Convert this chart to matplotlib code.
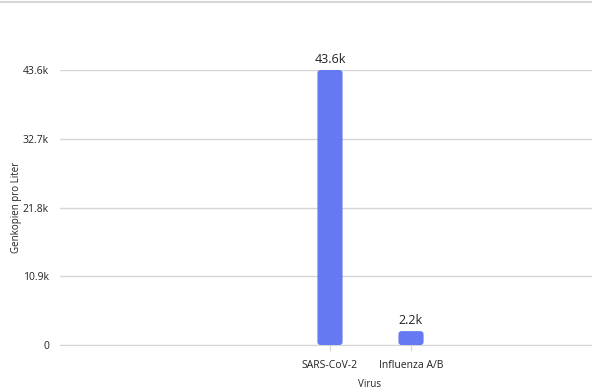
import matplotlib.pyplot as plt
from matplotlib.patches import FancyBboxPatch
from matplotlib.lines import Line2D

viren = ["SARS-CoV-2", "Influenza A/B"]
werte = [43600, 2200]
etiketten = ["43.6k", "2.2k"]
y_ticks = [0, 10900, 21800, 32700, 43600]
y_labels = ["0", "10.9k", "21.8k", "32.7k", "43.6k"]

plt.rcParams['font.family'] = ['Open Sans', 'DejaVu Sans']

W, H = 592, 391
fig = plt.figure(figsize=(W / 100, H / 100), dpi=100)
# Achse in Pixeln: x 60..592, y 70..345
ax = fig.add_axes([60 / W, (H - 345) / H, (W - 60) / W, 275 / H])

farbe = '#6479f2'
breite = 0.31
pos = list(range(len(viren)))
bars = ax.bar(pos, werte, width=breite, color=farbe, alpha=0)

# abgerundete Ecken (~3 px)
px_x = 1 / 81
px_y = 43600 / 275
for b in bars:
    ax.add_patch(FancyBboxPatch((b.get_x(), b.get_y()), b.get_width(), b.get_height(),
                                boxstyle="round,pad=0,rounding_size=%f" % (3 * px_x),
                                mutation_aspect=px_y / px_x,
                                facecolor=farbe, edgecolor='none', zorder=3))

for p, v, t in zip(pos, werte, etiketten):
    ax.annotate(t, (p, v), xytext=(0, 3), textcoords='offset points',
                ha='center', va='bottom', fontsize=9, color='#222222')

ax.set_xlim((60 - 330) / 81, (592 - 330) / 81)
ax.set_ylim(0, 43600)
ax.set_yticks(y_ticks)
ax.set_yticklabels(y_labels)
ax.set_xticks(pos)
ax.set_xticklabels(viren)

ax.grid(axis='y', color='#d6d6d6', linewidth=1)
ax.set_axisbelow(True)
for s in ['top', 'right', 'left']:
    ax.spines[s].set_visible(False)
ax.spines['bottom'].set_color('#d6d6d6')
ax.tick_params(axis='y', length=0, pad=8, labelsize=7.5, labelcolor='#222222')
ax.tick_params(axis='x', length=4, color='#d6d6d6', pad=7, labelsize=7.5,
               labelcolor='#222222')

ax.set_ylabel("Genkopien pro Liter", fontsize=7, color='#222222')
ax.yaxis.set_label_coords(-38 / 532, 0.5)
ax.set_xlabel("Virus", fontsize=7, color='#222222')
ax.xaxis.set_label_coords((370 - 60) / 532, -34 / 275)

fig.add_artist(Line2D([0, 1], [1 - 1.5 / H, 1 - 1.5 / H], color='#d6d6d6',
                      linewidth=1.5, transform=fig.transFigure))

fig.savefig('out.png', dpi=100)
